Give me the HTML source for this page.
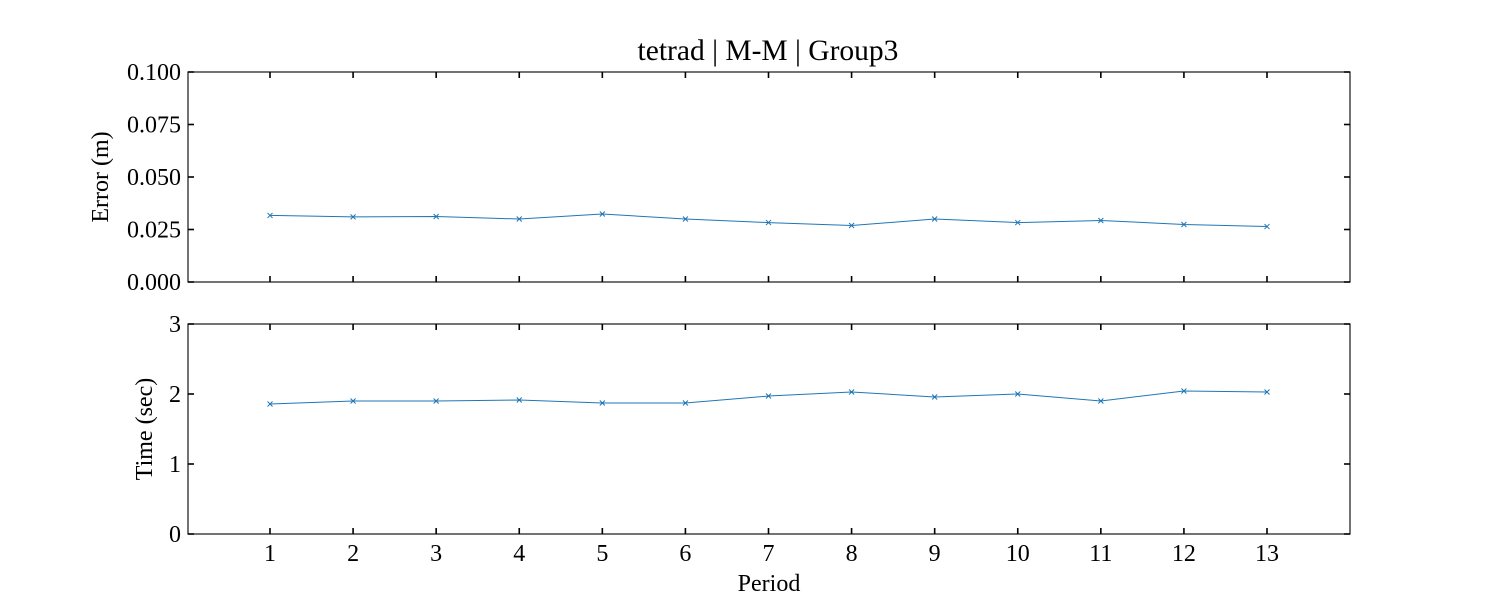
<!DOCTYPE html>
<html><head><meta charset="utf-8"><style>
body{margin:0;background:#fff;}
svg text{font-family:"Liberation Serif",serif;fill:#000;}
</style></head><body>
<svg id="chart" width="1500" height="600" xmlns="http://www.w3.org/2000/svg">
<text x="768" y="60" font-size="29.5" text-anchor="middle">tetrad | M-M | Group3</text>
<g id="g"></g>
</svg>
<script>
const periods=[1,2,3,4,5,6,7,8,9,10,11,12,13];
const errorValues=[0.0317,0.0310,0.0312,0.0300,0.0324,0.0300,0.0283,0.0269,0.0300,0.0283,0.0293,0.0274,0.0264];
const timeValues=[1.857,1.9,1.9,1.914,1.871,1.871,1.971,2.029,1.957,2.0,1.9,2.043,2.029];
const errorTicks=["0.000","0.025","0.050","0.075","0.100"];
const timeTicks=["0","1","2","3"];
const NS="http://www.w3.org/2000/svg";
const g=document.getElementById('g');
function el(t,a,txt){const e=document.createElementNS(NS,t);for(const k in a)e.setAttribute(k,a[k]);if(txt!==undefined)e.textContent=txt;g.appendChild(e);return e;}
const L=188,R=1350,T=6;
const x=p=>270+(p-1)*(1267-270)/12;
function panel(top,bot,ymax,ticks,vals,label,name){
  const y=v=>bot-(v/ymax)*(bot-top);
  const f=el('rect',{x:L,y:top,width:R-L,height:bot-top,fill:'none',stroke:'#000','stroke-width':1.1});
  
  
  ticks.forEach((t,i)=>{const v=ymax*i/(ticks.length-1);const yy=y(v);
    const a=el('line',{x1:L,x2:L+T,y1:yy,y2:yy,stroke:'#000','stroke-width':1.6});
    const b=el('line',{x1:R-T,x2:R,y1:yy,y2:yy,stroke:'#000','stroke-width':1.6});
    const tx=el('text',{x:L-7,y:yy+8,'font-size':24,'text-anchor':'end'},t);
  });
  periods.forEach(p=>{const xx=x(p);
    const a=el('line',{x1:xx,x2:xx,y1:bot,y2:bot-T,stroke:'#000','stroke-width':1.6});
    const b=el('line',{x1:xx,x2:xx,y1:top,y2:top+T,stroke:'#000','stroke-width':1.6});
  });
  const pl=el('polyline',{points:vals.map((v,i)=>x(periods[i])+','+y(v)).join(' '),fill:'none',stroke:'#1f77b4','stroke-width':1});
  
  vals.forEach((v,i)=>{const cx=x(periods[i]),cy=y(v);
    const m=el('path',{d:`M${cx-2.5},${cy-2.5}L${cx+2.5},${cy+2.5}M${cx-2.5},${cy+2.5}L${cx+2.5},${cy-2.5}`,stroke:'#1f77b4','stroke-width':1});
    
  });
  const cy=(top+bot)/2;
  const lx=name==='error'?108:152;
  const t=el('text',{x:lx,y:cy,'font-size':24,'text-anchor':'middle',transform:`rotate(-90 ${lx} ${cy})`},label);
  
}
panel(72,282,0.1,errorTicks,errorValues,'Error (m)','error');
panel(324,534,3,timeTicks,timeValues,'Time (sec)','time');
periods.forEach(p=>{const t=el('text',{x:x(p),y:561,'font-size':24,'text-anchor':'middle'},String(p));
  });
const xt=el('text',{x:769,y:591,'font-size':24,'text-anchor':'middle'},'Period');


</script>
</body></html>
